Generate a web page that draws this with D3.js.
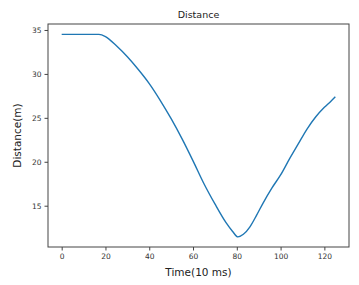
<!DOCTYPE html>
<html lang="en">
<head>
<meta charset="UTF-8">
<title>Distance</title>
<script src="https://d3js.org/d3.v7.min.js"></script>
<style>
    body { margin: 0; background: white; font-family: "DejaVu Sans", sans-serif; }
    .axis text { font-size: 7.5px; fill: #333; font-family: "DejaVu Sans", sans-serif; }
    .axis line { stroke: #444; }
    .axis path { display: none; }
</style>
</head>
<body>
<div id="chart"></div>
<script>
    // time in units of 10 ms, distance in metres
    const times = [0, 5, 10, 15, 17, 20, 25, 30, 35, 40, 45, 50, 55, 60, 65, 70, 75, 78, 80.5, 83, 86, 89, 92, 96, 100, 104, 108, 112, 116, 120, 123, 125];
    const distances = [34.5, 34.5, 34.5, 34.5, 34.5, 34.25, 33.2, 31.95, 30.5, 28.9, 27.0, 24.9, 22.6, 20.1, 17.5, 15.2, 13.1, 12.1, 11.45, 11.75, 12.6, 13.9, 15.3, 17.0, 18.5, 20.3, 22.0, 23.7, 25.1, 26.2, 26.9, 27.4];
    const xTicks = [0, 20, 40, 60, 80, 100, 120];
    const yTicks = [15, 20, 25, 30, 35];

    const W = 359, H = 285;
    const margin = { top: 24, right: 10, bottom: 38, left: 48 };
    const width = W - margin.left - margin.right;
    const height = H - margin.top - margin.bottom;

    const data = times.map((t, i) => ({ t, d: distances[i] }));

    const svg = d3.select("#chart").append("svg")
        .attr("width", W).attr("height", H);
    const g = svg.append("g")
        .attr("transform", `translate(${margin.left},${margin.top})`);

    const x = d3.scaleLinear().domain([-6.25, 131.25]).range([0, width]);
    const y = d3.scaleLinear().domain([10.3, 35.68]).range([height, 0]);

    g.append("g").attr("class", "axis")
        .attr("transform", `translate(0,${height})`)
        .call(d3.axisBottom(x).tickValues(xTicks).tickSize(3.5).tickPadding(3));

    g.append("g").attr("class", "axis")
        .call(d3.axisLeft(y).tickValues(yTicks).tickSize(3.5).tickPadding(3));

    // frame
    g.append("rect")
        .attr("width", width).attr("height", height)
        .attr("fill", "none").attr("stroke", "#444").attr("stroke-width", 1);

    g.append("path")
        .datum(data)
        .attr("fill", "none")
        .attr("stroke", "#1f77b4")
        .attr("stroke-width", 1.4)
        .attr("d", d3.line().x(d => x(d.t)).y(d => y(d.d)).curve(d3.curveMonotoneX));

    svg.append("text")
        .attr("x", margin.left + width / 2).attr("y", 18)
        .attr("text-anchor", "middle")
        .style("font-size", "9.5px").style("fill", "#222")
        .text("Distance");

    svg.append("text")
        .attr("x", margin.left + width / 2).attr("y", 276)
        .attr("text-anchor", "middle")
        .style("font-size", "10.5px").style("fill", "#222")
        .text("Time(10 ms)");

    svg.append("text")
        .attr("transform", `translate(21,${margin.top + height / 2}) rotate(-90)`)
        .attr("text-anchor", "middle")
        .style("font-size", "10.5px").style("fill", "#222")
        .text("Distance(m)");
</script>
</body>
</html>
